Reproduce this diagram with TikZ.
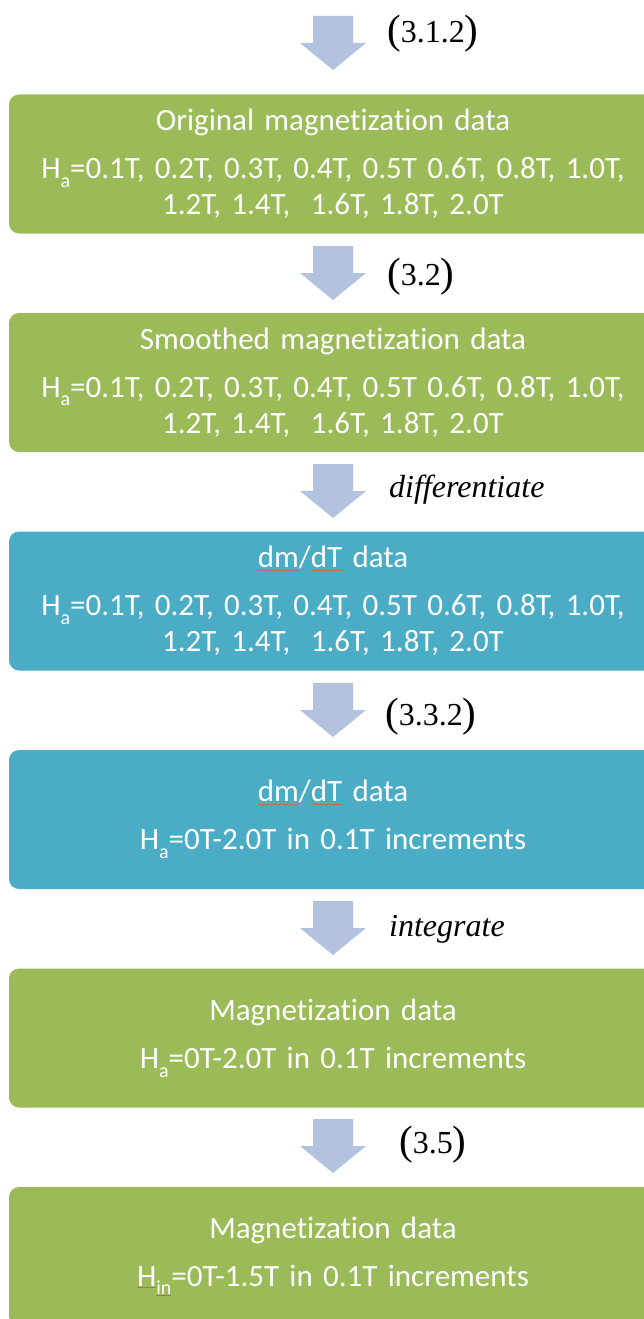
\documentclass[tikz,border=0pt]{standalone}
\usepackage{fontspec}
\setmainfont{Carlito}[Ligatures=NoCommon]
\newfontfamily\tnr{Liberation Serif}
\definecolor{boxgreen}{HTML}{9BBB59}
\definecolor{boxblue}{HTML}{4BACC6}
\definecolor{arrowc}{HTML}{B2C2DF}
\definecolor{spellc}{HTML}{C06868}
\newsavebox\splbox
\newcommand\subtxt[1]{\raisebox{-0.28em}{\fontsize{20}{20}\selectfont #1}}
\newcommand\spl[2][3pt]{\leavevmode\sbox\splbox{#2}\rlap{\color{spellc}\rule[-#1]{\wd\splbox}{0.9pt}}\usebox\splbox}
\newcommand\bigp[1]{{\fontsize{41}{41}\selectfont\raisebox{-1pt}{#1}}}
\tikzset{
  databox/.style={rounded corners=10pt, minimum width=648pt, minimum height=139pt,
    text width=630pt, align=center, text=white, inner sep=0pt,
    font=\fontsize{31}{36}\selectfont},
  greenbox/.style={databox, fill=boxgreen},
  bluebox/.style={databox, fill=boxblue},
  steplabel/.style={anchor=base west, inner sep=0pt, font=\tnr\fontsize{32}{38}\selectfont},
  downarr/.pic={\fill[arrowc] (-20,0) -- (20,0) -- (20,27) -- (33,27) -- (0,54) -- (-33,27) -- (-20,27) -- cycle;}
}
\begin{document}
\begin{tikzpicture}[x=1pt,y=-1pt]
\clip (0,0) rectangle (644,1319);
\fill[white] (0,0) rectangle (644,1319);

\node[greenbox] (b1) at (333,164) {Original magnetization data\\[12pt]
  H\subtxt{a}=0.1T, 0.2T, 0.3T, 0.4T, 0.5T 0.6T, 0.8T, 1.0T,\\ 1.2T, 1.4T,\ \ 1.6T, 1.8T, 2.0T};
\node[greenbox] (b2) at (333,382.5) {Smoothed magnetization data\\[12pt]
  H\subtxt{a}=0.1T, 0.2T, 0.3T, 0.4T, 0.5T 0.6T, 0.8T, 1.0T,\\ 1.2T, 1.4T,\ \ 1.6T, 1.8T, 2.0T};
\node[bluebox] (b3) at (333,601) {\spl{dm}/\spl{dT} data\\[12pt]
  H\subtxt{a}=0.1T, 0.2T, 0.3T, 0.4T, 0.5T 0.6T, 0.8T, 1.0T,\\ 1.2T, 1.4T,\ \ 1.6T, 1.8T, 2.0T};
\node[bluebox] (b4) at (333,819.5) {\spl{dm}/\spl{dT} data\\[12pt]
  H\subtxt{a}=0T-2.0T in 0.1T increments};
\node[greenbox] (b5) at (333,1038) {Magnetization data\\[12pt]
  H\subtxt{a}=0T-2.0T in 0.1T increments};
\node[greenbox] (b6) at (333,1256.5) {Magnetization data\\[12pt]
  \spl[2pt]{H}\spl[10pt]{\subtxt{in}}=0T-1.5T in 0.1T increments};

\pic at (333,16) {downarr};
\pic at (333,246) {downarr};
\pic at (333,464) {downarr};
\pic at (333,683) {downarr};
\pic at (333,901) {downarr};
\pic at (333,1119) {downarr};

\node[steplabel] (l1) at (387,43) {\bigp{(}3.1.2\bigp{)}};
\node[steplabel] (l2) at (387,285) {\bigp{(}3.2\bigp{)}};
\node[steplabel] (l3) at (389,497) {\itshape differentiate};
\node[steplabel] (l4) at (385,725) {\bigp{(}3.3.2\bigp{)}};
\node[steplabel] (l5) at (389,936) {\itshape integrate};
\node[steplabel] (l6) at (399,1153) {\bigp{(}3.5\bigp{)}};
\end{tikzpicture}
\end{document}
